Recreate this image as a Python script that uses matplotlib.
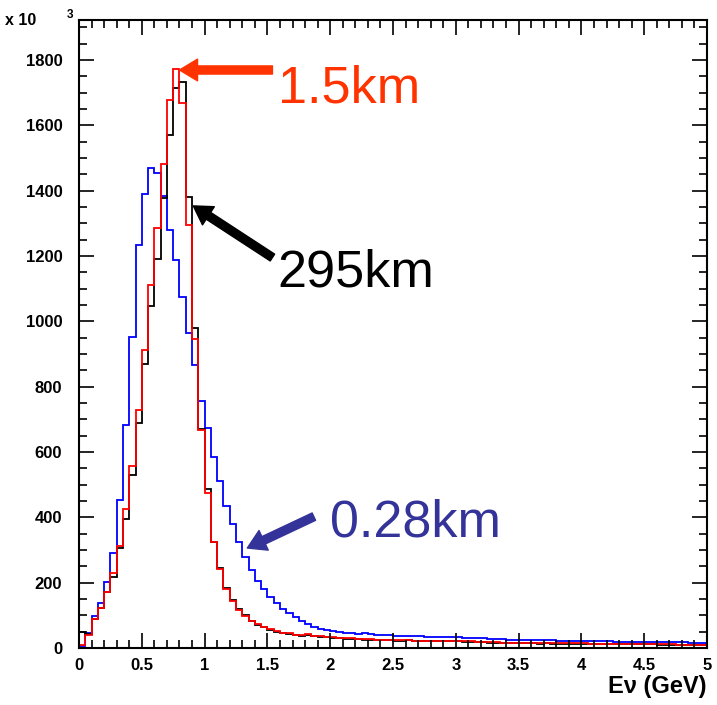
import numpy as np
import matplotlib.pyplot as plt
from matplotlib.ticker import MultipleLocator, FormatStrFormatter

plt.rcParams['font.family'] = ['Liberation Sans', 'DejaVu Sans']

# bin edges: 100 bins of 0.05 GeV
edges = np.linspace(0, 5, 101)

# event counts per bin (x 10^3)
near_028 = [6, 47, 98, 139, 203, 292, 453, 681, 953, 1234,
            1390, 1469, 1453, 1384, 1278, 1188, 1073, 965, 866, 757,
            672, 586, 512, 435, 378, 323, 277, 239, 205, 181,
            155, 137, 118, 106, 94, 82, 72, 63, 59, 55,
            52, 50, 47, 45, 44, 46, 43, 41, 40, 39,
            38, 38, 37, 36, 36, 35, 35, 34, 34, 33,
            33, 32, 31, 31, 30, 29, 28, 27, 26, 26,
            25, 24, 24, 24, 23, 23, 22, 22, 22, 21,
            21, 21, 20, 20, 20, 19, 19, 19, 19, 18,
            18, 18, 18, 17, 17, 17, 17, 16, 16, 16]

far_295 = [50, 42, 88, 123, 170, 218, 305, 396, 530, 690,
           868, 1048, 1190, 1377, 1570, 1715, 1731, 1381, 980, 669,
           488, 325, 245, 185, 148, 118, 100, 84, 71, 63,
           56, 50, 46, 43, 40, 38, 40, 36, 35, 33,
           31, 30, 29, 28, 28, 26, 26, 25, 24, 23,
           22, 22, 23, 21, 21, 21, 20, 21, 20, 20,
           20, 19, 19, 18, 17, 16, 16, 15, 15, 14,
           14, 14, 14, 13, 14, 13, 13, 13, 13, 13,
           13, 12, 12, 12, 12, 12, 12, 11, 11, 11,
           11, 11, 10, 10, 10, 10, 9, 9, 9, 9]

mid_15 = [9, 40, 88, 123, 170, 231, 313, 425, 558, 729,
          912, 1111, 1285, 1481, 1676, 1771, 1667, 1295, 946, 667,
          473, 323, 242, 181, 145, 116, 99, 84, 72, 64,
          57, 52, 47, 45, 41, 40, 43, 37, 36, 34,
          33, 32, 31, 30, 28, 27, 27, 26, 25, 24,
          23, 23, 24, 22, 22, 22, 21, 22, 21, 21,
          21, 20, 20, 19, 18, 17, 17, 16, 15, 15,
          15, 15, 15, 14, 15, 14, 14, 14, 14, 14,
          14, 13, 13, 13, 13, 13, 13, 12, 12, 12,
          12, 12, 11, 11, 11, 10, 10, 10, 9, 9]

fig = plt.figure(figsize=(7.17, 7.05), dpi=100)
ax = fig.add_axes([79/717, 57/705, 628/717, 628/705])

ax.stairs(near_028, edges, color='#0000ff', lw=1.3)
ax.stairs(far_295, edges, color='black', lw=1.3)
ax.stairs(mid_15, edges, color='#ff0000', lw=1.3)

ax.set_xlim(0, 5)
ax.set_ylim(0, 1922)

ax.xaxis.set_major_locator(MultipleLocator(0.5))
ax.xaxis.set_minor_locator(MultipleLocator(0.1))
ax.yaxis.set_major_locator(MultipleLocator(200))
ax.yaxis.set_minor_locator(MultipleLocator(50))
ax.xaxis.set_major_formatter(FormatStrFormatter('%g'))

ax.tick_params(which='both', direction='in', top=True, right=True, width=1.2)
ax.tick_params(which='major', length=11, labelsize=12)
ax.tick_params(which='minor', length=5.5)
ax.tick_params(axis='y', pad=12)
ax.tick_params(axis='x', pad=7)
for lab in ax.get_xticklabels() + ax.get_yticklabels():
    lab.set_fontweight('bold')
for sp in ax.spines.values():
    sp.set_linewidth(1.5)

ax.set_xlabel('E\u03bd (GeV)', loc='right', fontsize=17, fontweight='bold', labelpad=2)

fig.text(5/717, 1 - 25/705, 'x 10', fontsize=11.5, fontweight='bold')
fig.text(67/717, 1 - 18/705, '3', fontsize=8.5, fontweight='bold')

arrow = dict(arrowstyle='simple,head_length=1.0,head_width=1.2,tail_width=0.45',
             mutation_scale=13, shrinkA=0, shrinkB=0)

# 1.5 km
ax.annotate('', xy=(0.80, 1769), xytext=(1.54, 1769),
            arrowprops=dict(arrow, color='#ff3300'))
ax.text(1.585, 1668, '1.5km', color='#ff3300', fontsize=37.5)

# 295 km
ax.annotate('', xy=(0.91, 1353), xytext=(1.54, 1195),
            arrowprops=dict(arrow, color='black'))
ax.text(1.576, 1105, '295km', color='black', fontsize=37.5)

# 0.28 km
ax.annotate('', xy=(1.34, 306), xytext=(1.87, 402),
            arrowprops=dict(arrow, color='#333399'))
ax.text(1.998, 340, '0.28km', color='#333399', fontsize=37.5)

fig.savefig('out.png', dpi=100)
